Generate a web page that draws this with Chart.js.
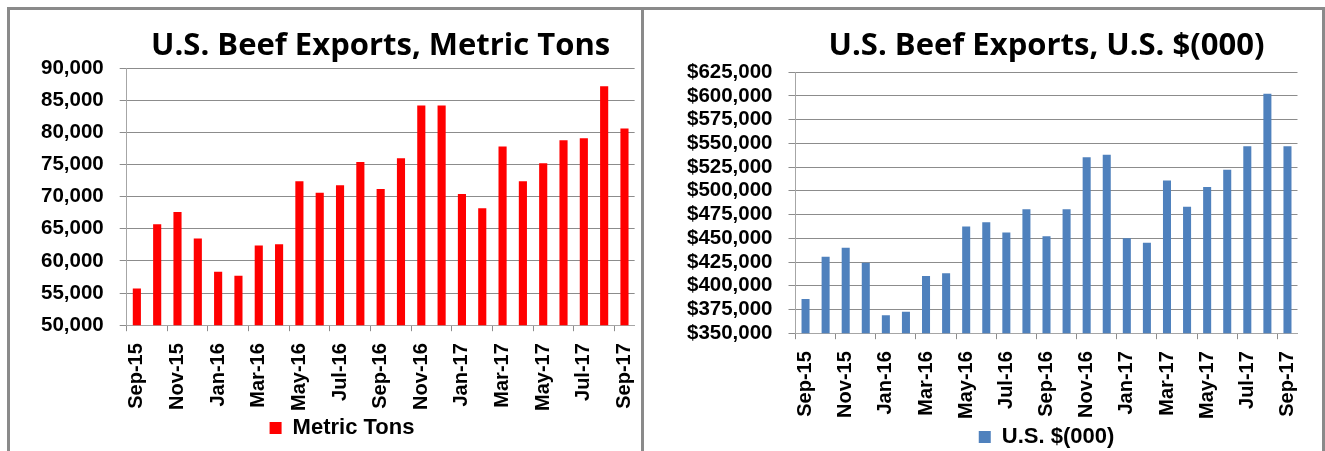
<!DOCTYPE html>
<html lang="en">
<head>
    <meta charset="UTF-8">
    <title>U.S. Beef Exports</title>
    <script src="https://cdn.jsdelivr.net/npm/chart.js"></script>
    <style>
        body { margin: 0; background: #fff; }
        #frame { position: absolute; left: 7px; top: 7px; width: 1312px; height: 460px; border: 3px solid #8a8a8a; z-index: 2; }
        #divider { position: absolute; left: 641px; top: 7px; width: 3px; height: 470px; background: #8a8a8a; z-index: 2; }
        .box { position: absolute; top: 10px; }
        #leftBox { left: 10px; width: 651px; height: 441px; }
        #rightBox { left: 644px; width: 680px; height: 460px; }
    </style>
</head>
<body>
    <div id="frame"></div>
    <div id="divider"></div>
    <div class="box" id="leftBox"><canvas id="tonsChart"></canvas></div>
    <div class="box" id="rightBox"><canvas id="dollarChart"></canvas></div>

    <script>
        // Monthly categories (every other one is shown on the axis)
        const months = ['Sep-15', 'Oct-15', 'Nov-15', 'Dec-15', 'Jan-16', 'Feb-16', 'Mar-16', 'Apr-16',
            'May-16', 'Jun-16', 'Jul-16', 'Aug-16', 'Sep-16', 'Oct-16', 'Nov-16', 'Dec-16',
            'Jan-17', 'Feb-17', 'Mar-17', 'Apr-17', 'May-17', 'Jun-17', 'Jul-17', 'Aug-17', 'Sep-17'];

        // Export volume, metric tons
        const metricTons = [55700, 65700, 67600, 63500, 58300, 57700, 62400, 62600,
            72400, 70600, 71800, 75400, 71200, 76000, 84200, 84200,
            70400, 68200, 77800, 72400, 75200, 78800, 79100, 87200, 80600];

        // Export value, U.S. $(000)
        const usDollars = [386000, 430500, 440000, 424300, 368800, 372600, 410300, 413100,
            462500, 466800, 456000, 480600, 452100, 480600, 535400, 537900,
            450000, 445200, 511000, 483100, 504000, 522200, 546900, 602300, 546900];

        const gridGray = '#8c8c8c';
        const axisGray = '#a6a6a6';
        const arial = 'Liberation Sans, Arial, sans-serif';

        function createChart(canvasId, label, values, color, yMin, yMax, step, prefix, title, lay) {
            const ctx = document.getElementById(canvasId).getContext('2d');
            return new Chart(ctx, {
                type: 'bar',
                data: {
                    labels: months,
                    datasets: [{
                        label: label,
                        data: values,
                        backgroundColor: color,
                        borderWidth: 0,
                        barPercentage: 0.4,
                        categoryPercentage: 1.0
                    }]
                },
                options: {
                    responsive: true,
                    maintainAspectRatio: false,
                    animation: false,
                    layout: { padding: lay.padding },
                    plugins: {
                        title: {
                            display: true,
                            text: title,
                            fullSize: false,
                            color: '#000',
                            font: { family: 'Open Sans, sans-serif', size: 31, weight: 'bold' },
                            padding: { top: 18, bottom: lay.titleBottom }
                        },
                        legend: {
                            position: 'bottom',
                            fullSize: lay.legendFull,
                            labels: {
                                color: '#000',
                                boxWidth: 12,
                                boxHeight: 12,
                                padding: 0,
                                font: { family: arial, size: 22, weight: 'bold' }
                            }
                        },
                        tooltip: { enabled: false }
                    },
                    scales: {
                        x: {
                            afterFit: s => { s.height -= lay.xTrim; },
                            grid: {
                                offset: true,
                                drawOnChartArea: false,
                                tickLength: 6,
                                color: c => (c.index !== undefined && c.index % 2 === 0) ? gridGray : 'rgba(0,0,0,0)'
                            },
                            border: { color: axisGray },
                            ticks: {
                                autoSkip: false,
                                maxRotation: 90,
                                minRotation: 90,
                                color: '#000',
                                padding: 12,
                                font: { family: arial, size: 20, weight: 'bold' },
                                callback: function (val, i) {
                                    return i % 2 === 0 ? this.getLabelForValue(val) : '';
                                }
                            }
                        },
                        y: {
                            min: yMin,
                            max: yMax,
                            grid: { color: gridGray, tickLength: 7 },
                            border: { color: axisGray },
                            ticks: {
                                stepSize: step,
                                autoSkip: false,
                                color: '#000',
                                padding: lay.yPad,
                                font: { family: arial, size: lay.ySize, weight: 'bold' },
                                callback: v => prefix + v.toLocaleString('en-US')
                            }
                        }
                    }
                }
            });
        }

        createChart('tonsChart', 'Metric Tons', metricTons, '#ff0000',
            50000, 90000, 5000, '', 'U.S. Beef Exports, Metric Tons',
            { padding: { left: 15, right: 2, top: 0, bottom: 2 }, titleBottom: 3, yPad: 16, ySize: 20.5, xTrim: 6, legendFull: true });
        createChart('dollarChart', 'U.S. $(000)', usDollars, '#4f81bd',
            350000, 625000, 25000, '$', 'U.S. Beef Exports, U.S. $(000)',
            { padding: { left: 27, right: 1, top: 0, bottom: 12 }, titleBottom: 7, yPad: 16, ySize: 20.5, xTrim: 5, legendFull: false });
    </script>
</body>
</html>
